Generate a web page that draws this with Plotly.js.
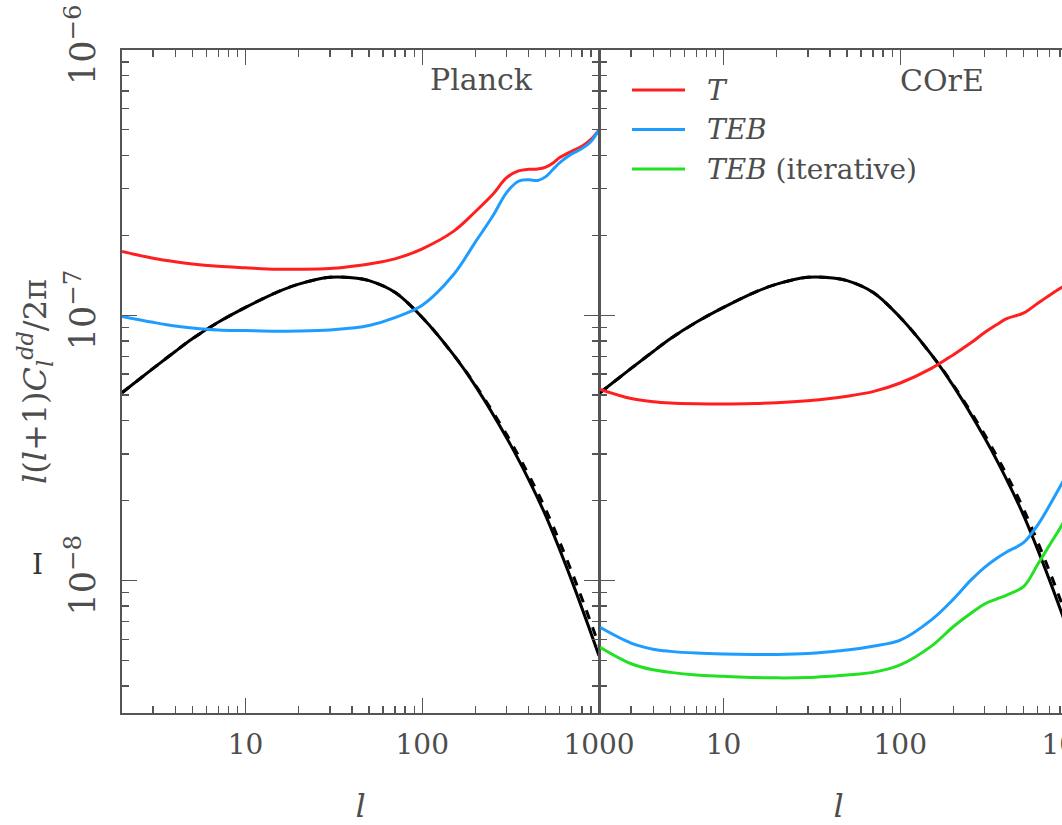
<!DOCTYPE html>
<html>
<head>
<meta charset="utf-8">
<script src="https://cdn.plot.ly/plotly-3.0.1.min.js"></script>
<style>
  html, body { margin: 0; padding: 0; background: #fff; overflow: hidden; }
  #chart { width: 1120px; height: 825px; }
</style>
</head>
<body>
<div id="chart"></div>
<script>
// Multipoles of the theory curve
const lTheory = [2, 3, 4, 5, 7, 10, 15, 20, 30, 40, 50, 70, 100, 150, 200, 300, 400, 500, 700, 1000];
// Lensing deflection power, solid and dashed theory curves
const cddTheory = [5.1e-8, 6.3e-8, 7.3e-8, 8.15e-8, 9.4e-8, 1.07e-7, 1.22e-7, 1.31e-7, 1.39e-7, 1.385e-7,
                   1.35e-7, 1.22e-7, 9.8e-8, 7.1e-8, 5.4e-8, 3.45e-8, 2.4e-8, 1.75e-8, 1.0e-8, 5.2e-9];
const cddDashed = [5.1e-8, 6.3e-8, 7.3e-8, 8.15e-8, 9.4e-8, 1.07e-7, 1.22e-7, 1.31e-7, 1.39e-7, 1.385e-7,
                   1.35e-7, 1.22e-7, 9.8e-8, 7.1e-8, 5.45e-8, 3.55e-8, 2.5e-8, 1.85e-8, 1.08e-8, 5.7e-9];

// Reconstruction noise: Planck
const lPlanck = [2, 3, 4, 5, 7, 10, 15, 20, 30, 40, 50, 70, 100, 150, 200, 250, 300, 350, 400, 450, 500,
                 550, 600, 700, 800, 900, 1000];
const planckT = [1.74e-7, 1.64e-7, 1.59e-7, 1.56e-7, 1.53e-7, 1.51e-7, 1.49e-7, 1.49e-7, 1.50e-7, 1.53e-7,
                 1.56e-7, 1.63e-7, 1.78e-7, 2.07e-7, 2.46e-7, 2.85e-7, 3.3e-7, 3.5e-7, 3.55e-7, 3.56e-7,
                 3.62e-7, 3.75e-7, 3.93e-7, 4.15e-7, 4.33e-7, 4.6e-7, 5.0e-7];
const planckTEB = [9.9e-8, 9.4e-8, 9.1e-8, 8.95e-8, 8.8e-8, 8.75e-8, 8.7e-8, 8.72e-8, 8.8e-8, 8.95e-8,
                   9.15e-8, 9.8e-8, 1.09e-7, 1.42e-7, 1.89e-7, 2.36e-7, 2.9e-7, 3.2e-7, 3.24e-7, 3.22e-7,
                   3.33e-7, 3.55e-7, 3.76e-7, 4.05e-7, 4.25e-7, 4.52e-7, 5.0e-7];

// Reconstruction noise: COrE
const lCore = [2, 3, 4, 5, 7, 10, 15, 20, 30, 40, 50, 70, 100, 150, 200, 250, 300, 350, 400, 500, 600, 700, 800, 1000];
const coreT = [5.25e-8, 4.85e-8, 4.72e-8, 4.67e-8, 4.64e-8, 4.63e-8, 4.65e-8, 4.68e-8, 4.76e-8, 4.85e-8,
               4.95e-8, 5.15e-8, 5.55e-8, 6.3e-8, 7.1e-8, 7.85e-8, 8.6e-8, 9.2e-8, 9.7e-8, 1.02e-7,
               1.11e-7, 1.19e-7, 1.26e-7, 1.38e-7];
const coreTEB = [6.65e-9, 5.8e-9, 5.5e-9, 5.4e-9, 5.32e-9, 5.28e-9, 5.26e-9, 5.26e-9, 5.3e-9, 5.38e-9,
                 5.46e-9, 5.65e-9, 5.95e-9, 7.1e-9, 8.5e-9, 1.0e-8, 1.12e-8, 1.21e-8, 1.28e-8, 1.39e-8,
                 1.62e-8, 1.92e-8, 2.25e-8, 2.95e-8];
const coreTEBIter = [5.6e-9, 4.85e-9, 4.6e-9, 4.5e-9, 4.4e-9, 4.35e-9, 4.3e-9, 4.29e-9, 4.3e-9, 4.35e-9,
                     4.4e-9, 4.5e-9, 4.8e-9, 5.65e-9, 6.7e-9, 7.5e-9, 8.15e-9, 8.5e-9, 8.8e-9, 9.5e-9,
                     1.15e-8, 1.36e-8, 1.57e-8, 2.05e-8];

const panelNames = ['Planck', 'COrE'];
const legendNames = ['<i>T</i>', '<i>TEB</i>', '<i>TEB</i> (iterative)'];

const RED = '#ff1f1f', BLUE = '#1f9dff', GREEN = '#22e022', BLACK = '#000000';
const INK = '#4d4d4d';
const FONT = 'DejaVu Serif';

function line(x, y, color, xa, ya, dash) {
  return {
    x: x, y: y, xaxis: xa, yaxis: ya, type: 'scatter', mode: 'lines',
    line: { color: color, width: 3, shape: 'spline', smoothing: 1.0, dash: dash || 'solid' },
    showlegend: false, hoverinfo: 'skip'
  };
}

const traces = [
  // Planck panel
  line(lTheory, cddDashed, BLACK, 'x', 'y', 'dash'),
  line(lTheory, cddTheory, BLACK, 'x', 'y'),
  line(lPlanck, planckT, RED, 'x', 'y'),
  line(lPlanck, planckTEB, BLUE, 'x', 'y'),
  // COrE panel
  line(lTheory, cddDashed, BLACK, 'x2', 'y2', 'dash'),
  line(lTheory, cddTheory, BLACK, 'x2', 'y2'),
  line(lCore, coreT, RED, 'x2', 'y2'),
  line(lCore, coreTEB, BLUE, 'x2', 'y2'),
  line(lCore, coreTEBIter, GREEN, 'x2', 'y2')
];

const tickFont = { family: FONT, size: 28, color: INK };
const minorTicks = { ticks: 'inside', ticklen: 7, tickwidth: 1.3, tickcolor: '#555', dtick: 'D1', showgrid: false };

function xAxis(domain, anchor) {
  return {
    type: 'log', domain: domain, anchor: anchor, range: [Math.log10(2), 3], dtick: 1,
    exponentformat: 'none', tickfont: tickFont, ticklabelstandoff: 5,
    ticks: 'inside', ticklen: 15, tickwidth: 1.3, tickcolor: '#555',
    showline: true, linecolor: '#555', linewidth: 2, mirror: 'allticks',
    showgrid: false, zeroline: false, minor: minorTicks,
    title: { text: '<i>l</i>', font: { family: FONT, size: 32, color: INK }, standoff: 62 }
  };
}
function yAxis(anchor, labels) {
  return {
    type: 'log', anchor: anchor, range: [-8.5, -6], dtick: 1,
    exponentformat: 'power', showexponent: 'all', tickangle: -90,
    tickfont: tickFont, showticklabels: labels, ticklabelstandoff: 12,
    ticks: 'inside', ticklen: 15, tickwidth: 1.3, tickcolor: '#555',
    showline: true, linecolor: '#555', linewidth: 2, mirror: 'allticks',
    showgrid: false, zeroline: false, minor: minorTicks
  };
}

const plotW = 955;                      // width of both panels together
const splitPx = 477;                    // panel boundary
const xp = px => (px - 122) / plotW;    // page px -> paper x
const yp = py => (713 - py) / 663;      // page px -> paper y

function label(text, x, y, size, extra) {
  return Object.assign({
    text: text, xref: 'paper', yref: 'paper', x: xp(x), y: yp(y),
    xanchor: 'center', yanchor: 'middle', showarrow: false,
    font: { family: FONT, size: size, color: INK }
  }, extra || {});
}

const layout = {
  width: 1120, height: 825,
  margin: { l: 122, r: 43, t: 50, b: 112 },
  paper_bgcolor: '#fff', plot_bgcolor: '#fff',
  font: { family: FONT, color: INK },
  xaxis: xAxis([0, splitPx / plotW], 'y'),
  yaxis: Object.assign(yAxis('x', true), {
    title: {
      text: '<i>l</i>(<i>l</i>+1)<i>C</i><sub><i>l</i></sub><sup><i>dd</i></sup>/2π',
      font: { family: FONT, size: 32, color: INK }, standoff: 0
    }
  }),
  xaxis2: xAxis([(splitPx + 1) / plotW, 1], 'y2'),
  yaxis2: Object.assign(yAxis('x2', false), { matches: 'y' }),
  shapes: [RED, BLUE, GREEN].map((c, i) => ({
    type: 'line', xref: 'paper', yref: 'paper',
    x0: xp(632), x1: xp(685), y0: yp(90 + 39.5 * i), y1: yp(90 + 39.5 * i),
    line: { color: c, width: 3 }
  })),
  annotations: [
    label(panelNames[0], 481, 80, 30),
    label(panelNames[1], 942, 81, 30),
    label('I', 37, 564, 28, { font: { family: FONT, size: 28, color: '#333' } })
  ].concat(legendNames.map((t, i) => label(t, 705, 90 + 39.5 * i, 28, { xanchor: 'left' })))
};

Plotly.newPlot('chart', traces, layout, { staticPlot: true, displayModeBar: false });
</script>
</body>
</html>
